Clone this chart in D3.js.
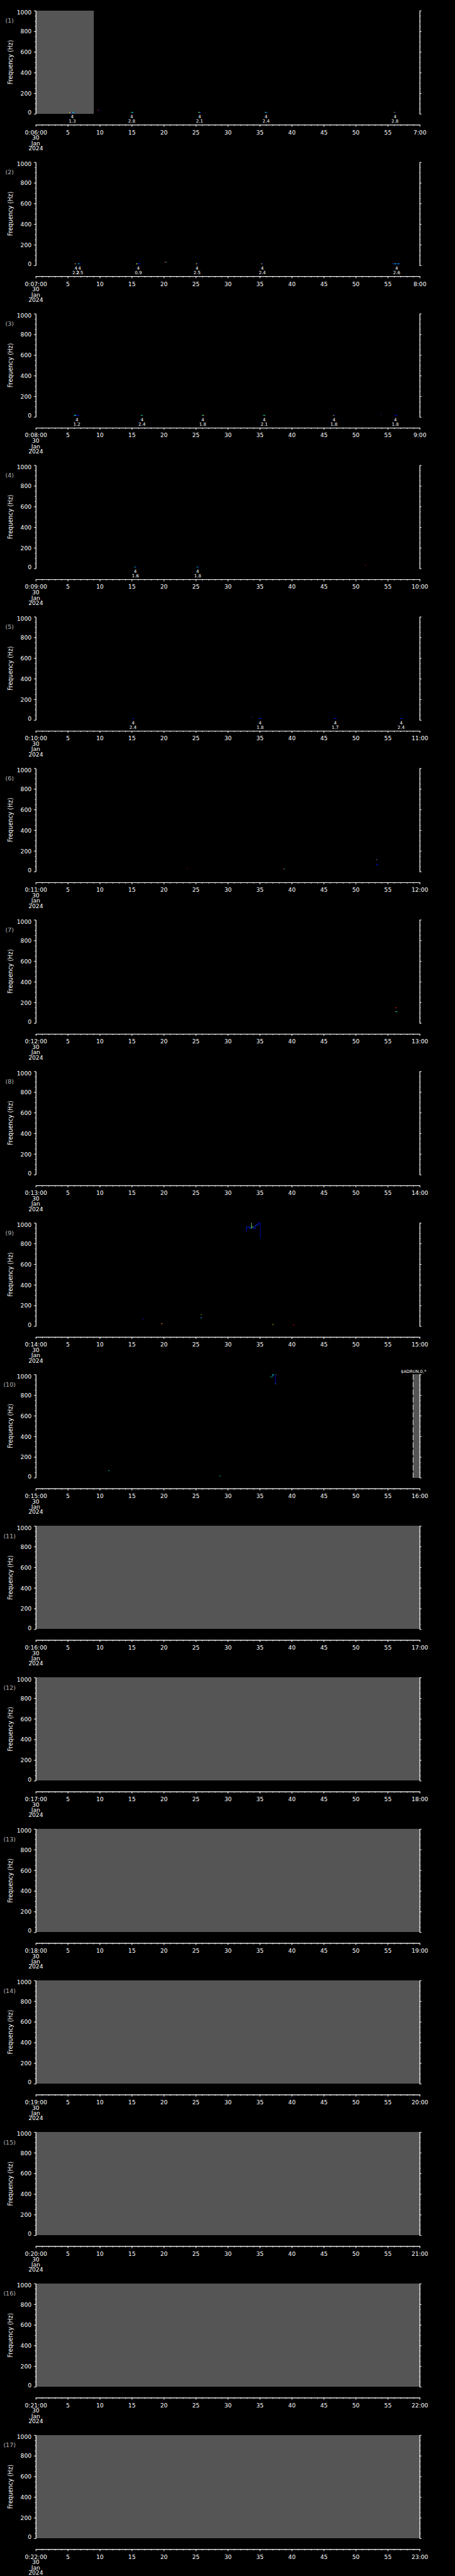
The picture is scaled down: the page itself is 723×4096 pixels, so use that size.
<!DOCTYPE html>
<html>
<head>
<meta charset="utf-8">
<script src="https://cdn.jsdelivr.net/npm/d3@7"></script>
<style>
  body { margin: 0; background: #000; }
  svg { display: block; }
  text { font-family: "DejaVu Sans", sans-serif; fill: #fff; }
</style>
</head>
<body>
<div id="chart"></div>
<script>
// hour shown in each of the 17 panels (0:HH:00 .. HH+1:00), 30 Jan 2024
const panelHours = [6, 7, 8, 9, 10, 11, 12, 13, 14, 15, 16, 17, 18, 19, 20, 21, 22];
const dateLines = ["30", "Jan", "2024"];
const freqTicks = [0, 200, 400, 600, 800, 1000];

// spectrogram cells: [panel, startMin, endMin, loHz, hiHz, level 0..1]
const cells = [
    [1, 5.24, 5.43, 12, 18, 0.62], [1, 5.43, 5.71, 12, 18, 0.08], [1, 5.71, 5.98, 12, 18, 0.37], [1, 5.98, 6.15, 12, 18, 0.2],
    [1, 9.64, 9.8, 34, 40, 0.87], [1, 9.8, 9.97, 31, 37, 0.15],
    [1, 14.9, 15.24, 12, 18, 0.37],
    [1, 25.38, 25.55, 12, 18, 0.55], [1, 25.55, 25.7, 12, 18, 0.37], [1, 25.7, 25.85, 12, 18, 0.15],
    [1, 35.8, 36.0, 12, 18, 0.37], [1, 36.0, 36.2, 12, 18, 0.25],
    [1, 55.99, 56.12, 12, 18, 0.62], [1, 56.12, 56.28, 12, 18, 0.15],

    [2, 6.1, 6.26, 12, 18, 0.62], [2, 6.26, 6.44, 12, 18, 0.15],
    [2, 6.61, 6.84, 12, 18, 0.37], [2, 6.84, 7.03, 12, 18, 0.15],
    [2, 15.66, 15.87, 12, 18, 0.6], [2, 15.87, 16.1, 12, 18, 0.2], [2, 16.1, 16.4, 12, 18, 0.12],
    [2, 20.1, 20.3, 28, 34, 0.87], [2, 20.3, 20.45, 28, 34, 0.37],
    [2, 25.03, 25.2, 12, 18, 0.62], [2, 25.2, 25.43, 12, 18, 0.15],
    [2, 35.22, 35.38, 12, 18, 0.55], [2, 35.38, 35.54, 12, 18, 0.15],
    [2, 55.8, 56.1, 12, 18, 0.2], [2, 56.1, 56.35, 12, 18, 0.37], [2, 56.35, 56.6, 12, 18, 0.15],
    [2, 56.6, 56.8, 12, 18, 0.37], [2, 56.8, 56.98, 12, 18, 0.15],

    [3, 5.95, 6.3, 13, 19, 0.37], [3, 6.3, 6.75, 13, 19, 0.12],
    [3, 16.45, 16.7, 13, 19, 0.4],
    [3, 25.95, 26.15, 13, 19, 0.4], [3, 26.15, 26.3, 13, 19, 0.6],
    [3, 35.55, 35.85, 13, 19, 0.4],
    [3, 46.45, 46.6, 13, 19, 0.65], [3, 46.6, 46.8, 13, 19, 0.15],
    [3, 53.95, 54.05, 22, 28, 0.2],
    [3, 56.05, 56.45, 13, 19, 0.12],

    [4, 15.4, 15.6, 10, 16, 0.4], [4, 15.6, 15.75, 10, 16, 0.12],
    [4, 25.15, 25.35, 10, 16, 0.4], [4, 25.35, 25.5, 10, 16, 0.12],
    [4, 51.45, 51.6, 28, 34, 0.92],

    [5, 15.05, 15.35, 12, 18, 0.15],
    [5, 33.75, 33.85, 25, 31, 0.2],
    [5, 34.9, 35.3, 12, 18, 0.15],
    [5, 46.6, 47.05, 12, 18, 0.12],
    [5, 56.95, 57.3, 12, 18, 0.15],

    [6, 23.6, 23.7, 27, 33, 0.9], [6, 23.7, 23.8, 27, 33, 0.05],
    [6, 38.65, 38.8, 21, 27, 0.87], [6, 38.8, 38.95, 21, 27, 0.3],
    [6, 53.2, 53.3, 112, 118, 0.6], [6, 53.3, 53.4, 112, 118, 0.15],
    [6, 53.2, 53.35, 66, 74, 0.15], [6, 53.3, 53.45, 58, 66, 0.12],

    [7, 56.2, 56.4, 146, 152, 0.85],
    [7, 56.2, 56.3, 107, 113, 0.75], [7, 56.3, 56.5, 107, 113, 0.37],

    [9, 16.75, 16.9, 67, 73, 0.15],
    [9, 19.6, 19.8, 21, 27, 0.7],
    [9, 25.8, 25.9, 107, 113, 0.6],
    [9, 25.78, 25.92, 76, 84, 0.3],
    [9, 37.0, 37.15, 12, 18, 0.6],
    [9, 40.2, 40.4, 8, 14, 0.9],
    [9, 32.88, 32.95, 915, 962, 0.15], [9, 32.95, 33.45, 957, 963, 0.15], [9, 33.4, 33.47, 945, 963, 0.15],
    [9, 33.45, 33.7, 945, 951, 0.2], [9, 33.68, 33.75, 945, 1000, 0.5], [9, 33.7, 34.05, 957, 963, 0.45],
    [9, 34.0, 34.07, 943, 963, 0.15], [9, 34.05, 34.3, 943, 949, 0.15], [9, 34.27, 34.34, 943, 977, 0.15],
    [9, 34.3, 34.6, 971, 977, 0.2], [9, 34.57, 34.64, 971, 990, 0.15], [9, 34.6, 34.85, 985, 991, 0.15],
    [9, 34.82, 34.89, 985, 1000, 0.15], [9, 34.85, 35.1, 994, 1000, 0.12], [9, 35.05, 35.12, 851, 1000, 0.08],

    [10, 11.35, 11.5, 65, 71, 0.37],
    [10, 28.7, 28.85, 13, 19, 0.37],
    [10, 36.95, 37.25, 993, 999, 0.37], [10, 36.98, 37.04, 970, 999, 0.3], [10, 37.4, 37.47, 910, 999, 0.12],
    [10, 37.55, 37.62, 993, 999, 0.5], [10, 36.7, 36.76, 968, 985, 0.4], [10, 37.4, 37.5, 905, 912, 0.3]
];

// detections under the traces: [panel, minute, count, value]
const detections = [
    [1, 5.7, 4, "1.3"], [1, 15.0, 4, "2.8"], [1, 25.6, 4, "2.1"], [1, 36.0, 4, "2.4"], [1, 56.15, 4, "2.8"],
    [2, 6.28, 4, "2.2"], [2, 6.86, 4, "2.5"], [2, 16.03, 4, "0.9"], [2, 25.2, 4, "2.5"], [2, 35.4, 4, "2.4"], [2, 56.4, 4, "2.6"],
    [3, 6.42, 4, "1.2"], [3, 16.6, 4, "2.4"], [3, 26.1, 4, "1.8"], [3, 35.7, 4, "2.1"], [3, 46.6, 4, "1.8"], [3, 56.2, 4, "1.8"],
    [4, 15.56, 4, "1.6"], [4, 25.3, 4, "1.8"],
    [5, 15.2, 4, "2.4"], [5, 35.06, 4, "1.8"], [5, 46.8, 4, "1.7"], [5, 57.1, 4, "2.4"]
];

// no-data spans: [panel, startMin, endMin, dashed edge]
const gaps = [
    [1, 0, 9.03, false], [10, 58.97, 60, true],
    [11, 0, 60, false], [12, 0, 60, false], [13, 0, 60, false], [14, 0, 60, false],
    [15, 0, 60, false], [16, 0, 60, false], [17, 0, 60, false]
];
const gapNotes = [[10, 58.97, "$ADRUN,0,*"]];

/* * * * * * * * * * * * * */

const W = 1024, H = 5802;
const PH = H / panelHours.length;
const margin = {top: 24, right: 79.5, bottom: 85, left: 80.5};
const plotH = 232.5;
const axisY = 281;

const svg = d3.select("#chart").append("svg")
    .attr("width", 723)
    .attr("height", 4096)
    .attr("viewBox", `0 0 ${W} ${H}`)
    .attr("preserveAspectRatio", "none");

svg.append("rect").attr("width", W).attr("height", H).attr("fill", "#000");

const x = d3.scaleLinear().domain([0, 60]).range([margin.left, W - margin.right]);
const y = d3.scaleLinear().domain([0, 1000]).range([margin.top + plotH, margin.top]);

const jet = d3.scaleLinear()
    .domain([0, 0.125, 0.375, 0.625, 0.875, 1])
    .range(["#00008f", "#0000ff", "#00ffff", "#ffff00", "#ff0000", "#800000"]);

function styleAxis(g) {
    g.select(".domain").attr("stroke", "#fff").attr("stroke-width", 1.2);
    g.selectAll(".tick line").attr("stroke", "#fff").attr("stroke-width", 1.2);
    g.selectAll("text").attr("fill", "#fff").style("font-size", "13px").attr("font-family", null);
}

panelHours.forEach((hr, i) => {
    let p = i + 1;
    let g = svg.append("g").attr("transform", `translate(0, ${i * PH})`);

    // gray no-data spans
    gaps.filter(d => d[0] === p).forEach(d => {
        g.append("rect")
            .attr("x", x(d[1]))
            .attr("y", y(1000))
            .attr("width", x(d[2]) - x(d[1]))
            .attr("height", y(0) - y(1000))
            .attr("fill", "#555555")
            .attr("shape-rendering", "crispEdges");
        if (d[3]) {
            g.append("line")
                .attr("x1", x(d[1])).attr("x2", x(d[1]))
                .attr("y1", y(1000)).attr("y2", y(0))
                .attr("stroke", "#fff")
                .attr("stroke-width", 1.2)
                .attr("stroke-dasharray", "12,5");
        }
    });

    gapNotes.filter(d => d[0] === p).forEach(d => {
        g.append("text")
            .attr("x", x(d[1]) + 1)
            .attr("y", y(1000) - 4)
            .attr("text-anchor", "middle")
            .style("font-size", "9.5px")
            .text(d[2]);
    });

    // spectrogram cells
    g.selectAll(".cell")
        .data(cells.filter(d => d[0] === p))
        .join("rect")
        .attr("class", "cell")
        .attr("x", d => x(d[1]))
        .attr("y", d => y(d[4]))
        .attr("width", d => x(d[2]) - x(d[1]))
        .attr("height", d => y(d[3]) - y(d[4]))
        .attr("fill", d => jet(d[5]));

    // detection labels
    let det = g.selectAll(".det")
        .data(detections.filter(d => d[0] === p))
        .join("g")
        .attr("class", "det")
        .attr("transform", d => `translate(${x(d[1])}, 0)`);
    det.append("text")
        .attr("y", 266.8)
        .attr("text-anchor", "middle")
        .style("font-size", "10px")
        .text(d => d[2]);
    det.append("text")
        .attr("y", 276.2)
        .attr("text-anchor", "middle")
        .style("font-size", "10px")
        .text(d => d[3]);

    // left frequency axis
    let left = g.append("g").attr("transform", `translate(${margin.left},0)`);
    left.append("g")
        .call(d3.axisLeft(y).tickValues(d3.range(0, 1001, 50)).tickSize(2.2).tickSizeOuter(0).tickFormat(""))
        .call(styleAxis);
    left.append("g")
        .call(d3.axisLeft(y).tickValues(freqTicks).tickSize(4.3).tickSizeOuter(0).tickPadding(5.3)
            .tickFormat(d3.format("d")))
        .call(styleAxis)
        .call(a => a.selectAll("text")
            .attr("dy", d => d === 1000 ? "0.72em" : (d === 0 ? "0em" : "0.36em"))
            .attr("y", d => d === 1000 ? -1 : (d === 0 ? 1 : 0)));

    // right frequency axis
    let right = g.append("g").attr("transform", `translate(${W - margin.right},0)`);
    right.append("g")
        .call(d3.axisRight(y).tickValues(d3.range(0, 1001, 50)).tickSize(2.2).tickSizeOuter(0).tickFormat(""))
        .call(styleAxis);
    right.append("g")
        .call(d3.axisRight(y).tickValues(freqTicks).tickSize(4.3).tickSizeOuter(0).tickFormat(""))
        .call(styleAxis);

    // time axis
    let hh = String(hr).padStart(2, "0");
    let bottom = g.append("g").attr("transform", `translate(0,${axisY})`);
    bottom.append("g")
        .call(d3.axisBottom(x).tickValues(d3.range(0, 61, 1)).tickSize(2.6).tickSizeOuter(0).tickFormat(""))
        .call(styleAxis);
    bottom.append("g")
        .call(d3.axisBottom(x).tickValues(d3.range(0, 61, 5)).tickSize(4.5).tickSizeOuter(0).tickPadding(7.8)
            .tickFormat(d => d === 0 ? `0:${hh}:00` : (d === 60 ? `${hr + 1}:00` : d)))
        .call(styleAxis);

    dateLines.forEach((t, j) => {
        bottom.append("text")
            .attr("x", x(0))
            .attr("y", 34 + j * 11.8)
            .attr("text-anchor", "middle")
            .style("font-size", "13px")
            .text(t);
    });

    // panel number
    g.append("text")
        .attr("x", 21.5)
        .attr("y", 51.5)
        .attr("text-anchor", "middle")
        .style("font-size", "13.5px")
        .style("fill", "#b4b4b4")
        .text(`(${p})`);

    // y title
    g.append("text")
        .attr("transform", `translate(28.3, ${y(500)}) rotate(-90)`)
        .attr("text-anchor", "middle")
        .attr("textLength", 100)
        .attr("lengthAdjust", "spacingAndGlyphs")
        .style("font-size", "15px")
        .text("Frequency (Hz)");
});
</script>
</body>
</html>
